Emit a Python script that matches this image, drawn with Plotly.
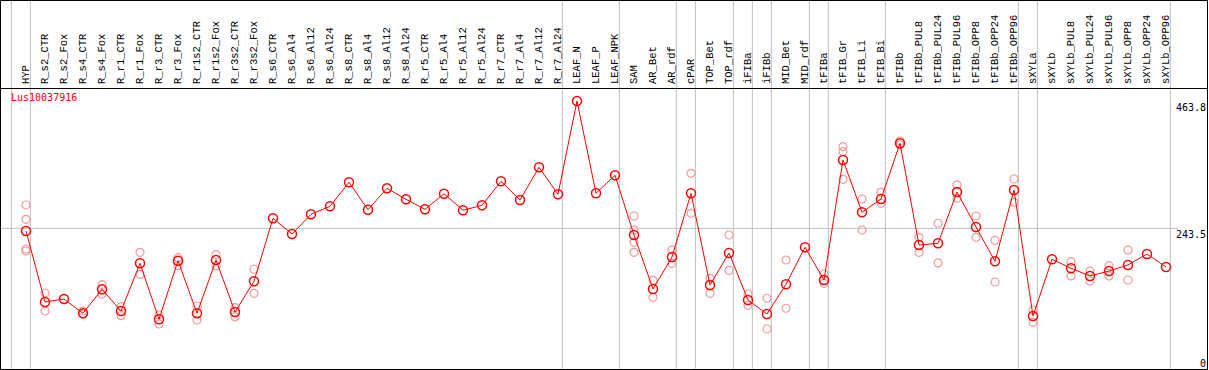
import plotly.graph_objects as go

gene = "Lus10037916"

samples = ["HYP", "R_s2_CTR", "R_s2_Fox", "R_s4_CTR", "R_s4_Fox", "R_r1_CTR", "R_r1_Fox",
           "R_r3_CTR", "R_r3_Fox", "R_r1s2_CTR", "R_r1s2_Fox", "R_r3s2_CTR", "R_r3s2_Fox",
           "R_s6_CTR", "R_s6_Al4", "R_s6_Al12", "R_s6_Al24", "R_s8_CTR", "R_s8_Al4", "R_s8_Al12",
           "R_s8_Al24", "R_r5_CTR", "R_r5_Al4", "R_r5_Al12", "R_r5_Al24", "R_r7_CTR", "R_r7_Al4",
           "R_r7_Al12", "R_r7_Al24", "LEAF_N", "LEAF_P", "LEAF_NPK", "SAM", "AR_Bet", "AR_rdf",
           "cPAR", "TOP_Bet", "TOP_rdf", "iFIBa", "iFIBb", "MID_Bet", "MID_rdf", "tFIBa",
           "tFIB_Gr", "tFIB_Li", "tFIB_Bi", "tFIBb", "tFIBb_PUL8", "tFIBb_PUL24", "tFIBb_PUL96",
           "tFIBb_OPP8", "tFIBb_OPP24", "tFIBb_OPP96", "sXYLa", "sXYLb", "sXYLb_PUL8",
           "sXYLb_PUL24", "sXYLb_PUL96", "sXYLb_OPP8", "sXYLb_OPP24", "sXYLb_OPP96"]

mean_values = [238.8, 116.0, 121.1, 96.4, 137.9, 100.4, 182.9,
               86.0, 187.4, 96.4, 188.6, 98.7, 151.8,
               260.8, 233.6, 267.7, 281.6, 323.1, 275.7, 312.7,
               293.7, 276.4, 303.4, 274.7, 283.3, 324.9, 292.5,
               349.1, 302.4, 463.8, 304.1, 335.2, 231.9, 138.5, 193.8,
               304.1, 145.4, 200.8, 119.4, 95.2, 146.6, 210.6, 154.0,
               361.7, 271.2, 294.2, 390.6, 214.6, 217.6, 306.3,
               245.8, 186.4, 309.8, 91.7, 189.9, 174.3,
               161.0, 169.6, 180.0, 199.0, 176.5]

replicates = [[283.8, 259.1, 207.7, 204.2], [131.5, 100.4], [], [100.4, 95.2], [145.9, 129.8],
              [107.8, 92.2], [202.0, 163.9], [93.5, 77.9], [192.6, 178.8], [109.0, 84.8],
              [197.8, 178.3], [106.1, 90.5], [172.6, 131.0],
              [], [], [], [], [], [], [], [], [], [], [], [], [], [], [], [],
              [], [], [],
              [264.8, 240.6, 219.3, 202.0], [153.5, 124.1], [206.0, 182.9],
              [338.7, 269.5], [157.0, 131.0], [231.9, 170.8], [129.8, 110.2], [122.4, 69.2],
              [188.6, 105.1], [], [164.4, 148.3],
              [384.7, 376.1, 328.3], [294.2, 240.6], [305.8, 286.8], [394.6, 387.7],
              [227.9, 202.0], [252.2, 183.5], [318.5, 295.4],
              [264.8, 227.9], [222.7, 150.6], [328.8, 288.5], [102.1, 80.8], [],
              [185.7, 161.0], [169.6, 152.3], [178.8, 161.0], [206.0, 154.0], [], []]

group_ends = [-1, 0, 28, 31, 34, 35, 37, 38, 39, 41, 42, 45, 52, 53, 60]

ytick_vals = [463.8, 243.5, 0]
ytick_text = ["463.8", "243.5", "0"]

W, H = 1209, 370
FONT = "DejaVu Sans Mono"
LABEL_FONT = "Liberation Mono"
idx = list(range(len(samples)))

rep_x, rep_y = [], []
for i, reps in enumerate(replicates):
    for v in reps:
        rep_x.append(i)
        rep_y.append(v)

fig = go.Figure()
fig.add_trace(go.Scatter(
    x=rep_x, y=rep_y, mode="markers",
    marker=dict(symbol="circle-open", size=8, color="#f09a9a", line=dict(width=1.2)),
    hoverinfo="skip", showlegend=False, cliponaxis=False))
fig.add_trace(go.Scatter(
    x=idx, y=mean_values, mode="lines+markers",
    line=dict(color="#ff0000", width=1),
    marker=dict(symbol="circle-open", size=9, color="#ff0000", line=dict(width=1.5)),
    text=samples, showlegend=False, cliponaxis=False))

# pixel geometry
x_px0, x_step = 26.0, 19.0
plot_top, plot_bot = 88.0, 369.0
k = (plot_bot - 228.3) / 243.5
ymax = (plot_bot - plot_top) / k

shapes = []
for g in group_ends:
    shapes.append(dict(type="line", xref="x", yref="paper", x0=g + 0.23, x1=g + 0.23,
                       y0=0, y1=1, line=dict(color="#c0c0c0", width=1), layer="below"))
shapes.append(dict(type="line", xref="paper", yref="y", x0=0, x1=1178 / W,
                   y0=ytick_vals[1], y1=ytick_vals[1], line=dict(color="#c0c0c0", width=1),
                   layer="below"))
# frame
shapes.append(dict(type="rect", xref="paper", yref="paper", x0=0.5 / W, x1=1207.5 / W,
                   y0=(H - 369.5) / H, y1=(H - 0.5) / H, line=dict(color="black", width=1)))
shapes.append(dict(type="line", xref="paper", yref="paper", x0=0, x1=1207.5 / W,
                   y0=(H - 88.5) / H, y1=(H - 88.5) / H, line=dict(color="black", width=1)))

annotations = [dict(text=gene, xref="paper", yref="paper", x=9 / W, y=(H - 97) / H,
                    xanchor="left", yanchor="middle", showarrow=False,
                    font=dict(family=FONT, size=10, color="#ff0000"))]
for v, t in zip(ytick_vals, ytick_text):
    annotations.append(dict(text=t, xref="paper", yref="y", x=1207 / W, y=v,
                            xanchor="right", yanchor="bottom" if v == 0 else "top",
                            yshift=-1 if v == 0 else 0, showarrow=False,
                            borderpad=0,
                            font=dict(family=FONT, size=10, color="black")))

fig.update_layout(
    width=W, height=H,
    margin=dict(l=0, r=0, t=0, b=0, autoexpand=False),
    paper_bgcolor="white", plot_bgcolor="white",
    showlegend=False,
    xaxis=dict(range=[(0 - x_px0) / x_step, (W - x_px0) / x_step], automargin=False,
               domain=[0, 1], side="top", tickmode="array", tickvals=idx, ticktext=samples,
               tickangle=-90, showgrid=False, zeroline=False, ticks="", showline=False,
               ticklabelstandoff=3,
               tickfont=dict(family=LABEL_FONT, size=10.5, color="black")),
    yaxis=dict(range=[0, ymax], domain=[(H - plot_bot) / H, (H - plot_top) / H],
               automargin=False,
               showgrid=False, zeroline=False, showticklabels=False, ticks="", showline=False),
    shapes=shapes,
    annotations=annotations,
)

fig.write_html("out.html", config={"displayModeBar": False},
               post_script="document.body.style.margin='0';document.body.style.padding='0';")
